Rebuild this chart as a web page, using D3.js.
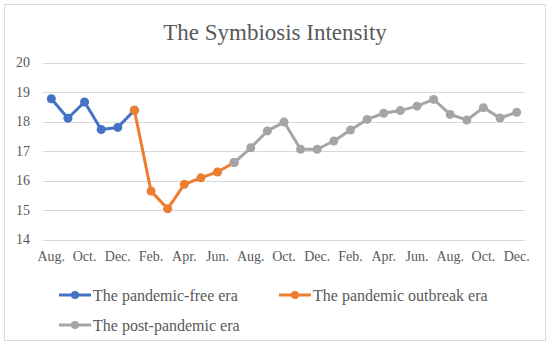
<!DOCTYPE html>
<html>
<head>
<meta charset="utf-8">
<script src="https://cdn.jsdelivr.net/npm/d3@7"></script>
<style>
  body { margin: 0; background: #fff; }
  text { font-family: "Liberation Serif", "DejaVu Serif", serif; fill: #595959; }
</style>
</head>
<body>
<div id="chart"></div>
<script>
// chart data
var title = "The Symbiosis Intensity";
var months = ["Aug.", "Sep.", "Oct.", "Nov.", "Dec.",
  "Jan.", "Feb.", "Mar.", "Apr.", "May.", "Jun.", "Jul.", "Aug.", "Sep.", "Oct.", "Nov.", "Dec.",
  "Jan.", "Feb.", "Mar.", "Apr.", "May.", "Jun.", "Jul.", "Aug.", "Sep.", "Oct.", "Nov.", "Dec."];
var yTicks = [14, 15, 16, 17, 18, 19, 20];

// each series starts at a month index
var freeStart = 0;
var freeVals = [18.77, 18.11, 18.66, 17.73, 17.80, 18.38];
var outbreakStart = 5;
var outbreakVals = [18.38, 15.64, 15.04, 15.87, 16.09, 16.29, 16.61];
var postStart = 11;
var postVals = [16.61, 17.11, 17.68, 17.98, 17.06, 17.06, 17.34, 17.71, 18.07, 18.28,
  18.37, 18.52, 18.75, 18.24, 18.05, 18.47, 18.12, 18.31];

var seriesNames = ["The pandemic-free era", "The pandemic outbreak era", "The post-pandemic era"];
var colors = ["#4472C4", "#ED7D31", "#A5A5A5"];

// canvas
var svgWidth = 550;
var svgHeight = 348;

var svg = d3.select("#chart")
  .append("svg")
  .attr("width", svgWidth)
  .attr("height", svgHeight);

// chart border
svg.append("rect")
  .attr("x", 4.5)
  .attr("y", 4.5)
  .attr("width", 541)
  .attr("height", 336)
  .attr("fill", "#fff")
  .attr("stroke", "#d9d9d9");

// title
svg.append("text")
  .attr("x", 275)
  .attr("y", 40)
  .attr("text-anchor", "middle")
  .style("font-size", "23px")
  .text(title);

// scales
var xScale = d3.scaleBand()
  .domain(d3.range(months.length))
  .range([43, 525])
  .padding(0);

var yScale = d3.scaleLinear()
  .domain([14, 20])
  .range([239.5, 62.5]);

// gridlines
svg.append("g")
  .selectAll("line")
  .data(yTicks)
  .enter()
  .append("line")
  .attr("x1", 43)
  .attr("x2", 525)
  .attr("y1", d => Math.round(yScale(d)) + 0.5)
  .attr("y2", d => Math.round(yScale(d)) + 0.5)
  .attr("stroke", "#d9d9d9")
  .attr("stroke-width", 1);

// y axis labels
var leftAxis = d3.axisLeft(yScale)
  .tickValues(yTicks)
  .tickFormat(d3.format("d"))
  .tickSize(0)
  .tickPadding(0);
var yAxisG = svg.append("g")
  .attr("transform", "translate(30, 0)")
  .call(leftAxis)
  .attr("font-family", null);
yAxisG.select(".domain").remove();
yAxisG.selectAll("text")
  .style("font-family", "'Liberation Serif', serif")
  .style("font-size", "14px")
  .attr("fill", "#595959");

// x axis labels, every other month
var bottomAxis = d3.axisBottom(xScale)
  .tickValues(d3.range(0, months.length, 2))
  .tickFormat(i => months[i])
  .tickSize(0)
  .tickPadding(0);
var xAxisG = svg.append("g")
  .attr("transform", "translate(0, 251)")
  .call(bottomAxis)
  .attr("font-family", null);
xAxisG.select(".domain").remove();
xAxisG.selectAll("text")
  .style("font-family", "'Liberation Serif', serif")
  .style("font-size", "14px")
  .attr("fill", "#595959");

// series
var series = [
  { start: freeStart, vals: freeVals },
  { start: outbreakStart, vals: outbreakVals },
  { start: postStart, vals: postVals }
];

var line = d3.line()
  .x(d => xScale(d.i) + xScale.bandwidth() / 2)
  .y(d => yScale(d.v));

series.forEach(function (s, k) {
  var pts = s.vals.map((v, j) => ({ i: s.start + j, v: v }));
  svg.append("path")
    .datum(pts)
    .attr("d", line)
    .attr("fill", "none")
    .attr("stroke", colors[k])
    .attr("stroke-width", 3)
    .attr("stroke-linejoin", "round");
  svg.append("g")
    .selectAll("circle")
    .data(pts)
    .enter()
    .append("circle")
    .attr("cx", d => xScale(d.i) + xScale.bandwidth() / 2)
    .attr("cy", d => yScale(d.v))
    .attr("r", 4.5)
    .attr("fill", colors[k]);
});

// legend
var legendPos = [[59, 295], [279, 295], [59, 325]];
seriesNames.forEach(function (name, k) {
  var g = svg.append("g")
    .attr("transform", `translate(${legendPos[k][0]}, ${legendPos[k][1]})`);
  g.append("line")
    .attr("x1", 0)
    .attr("x2", 32)
    .attr("stroke", colors[k])
    .attr("stroke-width", 3);
  g.append("circle")
    .attr("cx", 16)
    .attr("r", 4)
    .attr("fill", colors[k]);
  g.append("text")
    .attr("x", 34)
    .attr("dy", "0.35em")
    .style("font-size", "16px")
    .text(name);
});
</script>
</body>
</html>
